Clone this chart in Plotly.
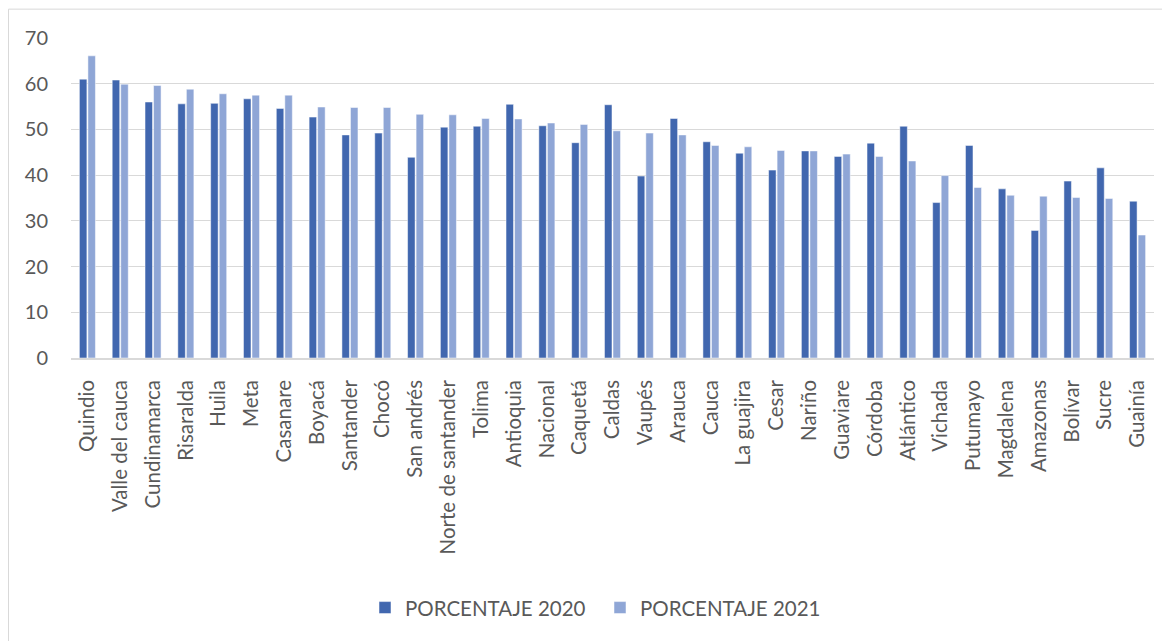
import plotly.graph_objects as go

categorias = ["Quindio", "Valle del cauca", "Cundinamarca", "Risaralda", "Huila", "Meta",
              "Casanare", "Boyacá", "Santander", "Chocó", "San andrés", "Norte de santander",
              "Tolima", "Antioquia", "Nacional", "Caquetá", "Caldas", "Vaupés", "Arauca",
              "Cauca", "La guajira", "Cesar", "Nariño", "Guaviare", "Córdoba", "Atlántico",
              "Vichada", "Putumayo", "Magdalena", "Amazonas", "Bolívar", "Sucre", "Guainía"]

porcentaje_2020 = [61.0, 60.8, 56.0, 55.6, 55.7, 56.7, 54.6, 52.7, 48.8, 49.2, 43.9, 50.5,
                   50.7, 55.5, 50.8, 47.1, 55.4, 39.8, 52.4, 47.3, 44.8, 41.1, 45.3, 44.1,
                   47.0, 50.7, 34.0, 46.5, 37.0, 27.9, 38.7, 41.6, 34.3]

porcentaje_2021 = [66.1, 59.9, 59.6, 58.8, 57.8, 57.5, 57.5, 54.9, 54.8, 54.8, 53.3, 53.2,
                   52.4, 52.3, 51.4, 51.1, 49.7, 49.2, 48.8, 46.5, 46.2, 45.4, 45.3, 44.6,
                   44.1, 43.1, 39.9, 37.3, 35.6, 35.4, 35.1, 34.9, 26.9]

# page has an 8px body margin; figure coordinates = page - 8
OFF = 8
W, H = 1170 - OFF, 641 - OFF
L = 71 - OFF
R = W - (1154 - OFF)
T = 38.3 - OFF
B = H - (357.7 - OFF)
pw, ph = W - L - R, H - T - B

def px_x(x_page):
    return (x_page - OFF - L) / pw

def px_y(y_page):
    return 1 - (y_page - OFF - T) / ph

font_family = "Lato, 'Open Sans', sans-serif"
gray_text = "#595959"

fig = go.Figure()
fig.add_trace(go.Bar(x=categorias, y=porcentaje_2020, name="PORCENTAJE 2020",
                     marker=dict(color="#4167AF", line=dict(color="#FFFFFF", width=0.5))))
fig.add_trace(go.Bar(x=categorias, y=porcentaje_2021, name="PORCENTAJE 2021",
                     marker=dict(color="#8FA6D6", line=dict(color="#FFFFFF", width=0.5))))

fig.update_layout(
    width=W, height=H,
    margin=dict(l=L, r=R, t=T, b=B, autoexpand=False),
    paper_bgcolor="white", plot_bgcolor="white",
    barmode="group", bargap=0.48, bargroupgap=0.12,
    font=dict(family=font_family, size=20, color=gray_text),
    showlegend=True,
    legend=dict(orientation="h", x=px_x(600), xanchor="center", y=px_y(607), yanchor="middle",
                font=dict(size=20.5, color=gray_text), itemwidth=30, traceorder="normal",
                entrywidth=190),
    xaxis=dict(tickangle=-90, showgrid=False, showline=True, linecolor="#D9D9D9", linewidth=1.5,
               ticks="", tickfont=dict(size=20.5, color=gray_text), ticklabelstandoff=12,
               automargin=False),
    yaxis=dict(range=[0, 70], dtick=10, showgrid=True, gridcolor="#D9D9D9", gridwidth=1.2,
               zeroline=False, showline=False, ticks="", tickfont=dict(size=20, color=gray_text),
               ticklabelstandoff=22, automargin=False),
    shapes=[dict(type="rect", xref="paper", yref="paper",
                 x0=px_x(8.5), x1=px_x(1190), y0=px_y(680), y1=px_y(9.5),
                 line=dict(color="#D9D9D9", width=1), fillcolor="rgba(0,0,0,0)", layer="below")],
)

fig.write_html("out.html")
